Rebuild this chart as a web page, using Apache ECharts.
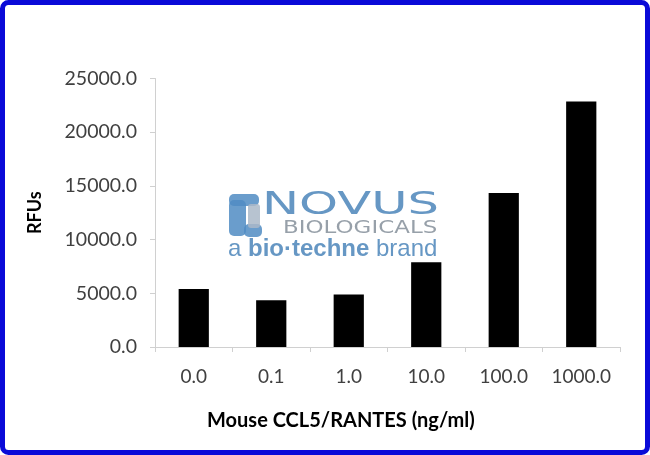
<!DOCTYPE html>
<html>
<head>
<meta charset="utf-8">
<script src="https://cdn.jsdelivr.net/npm/echarts@6/dist/echarts.min.js"></script>
<style>
html,body{margin:0;padding:0;background:#fff;}
#main{width:650px;height:455px;}
</style>
</head>
<body>
<div id="main"></div>
<script>
var categories = ['0.0', '0.1', '1.0', '10.0', '100.0', '1000.0'];
var rfuValues = [5400, 4350, 4880, 7900, 14350, 22850];
var yTicks = [0, 5000, 10000, 15000, 20000, 25000];

var chart = echarts.init(document.getElementById('main'), null, {renderer: 'canvas'});
var font = 'Lato, "Open Sans", sans-serif';
var blue = 'rgba(85,140,190,0.9)';
chart.setOption({
  animation: false,
  backgroundColor: '#ffffff',
  grid: {left: 155, right: 30, top: 78.5, bottom: 108},
  xAxis: {
    type: 'category',
    data: categories,
    axisLine: {lineStyle: {color: '#d0d0d0', width: 1}},
    axisTick: {show: true, length: 5, lineStyle: {color: '#d0d0d0'}},
    axisLabel: {color: '#404040', fontSize: 19, fontFamily: font, margin: 20}
  },
  yAxis: {
    type: 'value',
    min: yTicks[0],
    max: yTicks[yTicks.length - 1],
    interval: yTicks[1] - yTicks[0],
    name: 'RFUs',
    nameLocation: 'middle',
    nameGap: 111,
    nameTextStyle: {color: '#000', fontSize: 18, fontWeight: 'bold', fontFamily: font},
    splitLine: {show: false},
    axisLine: {show: true, lineStyle: {color: '#d0d0d0', width: 1}},
    axisTick: {show: true, length: 5, lineStyle: {color: '#d0d0d0'}},
    axisLabel: {
      color: '#404040', fontSize: 19.5, fontFamily: font, margin: 18,
      formatter: function (v) { return v.toFixed(1); }
    }
  },
  series: [{
    type: 'bar',
    data: rfuValues,
    barWidth: '39%',
    itemStyle: {color: '#000000'}
  }],
  graphic: [
    {type: 'rect', z: 100, shape: {x: 2.5, y: 2.5, width: 645, height: 450, r: 6},
     style: {fill: 'none', stroke: '#0a0ad8', lineWidth: 5}},
    {type: 'text', left: 207, top: 411, z: 10,
     style: {text: 'Mouse CCL5/RANTES (ng/ml)', fill: '#000', fontSize: 20, fontWeight: 'bold', fontFamily: font}},
    // watermark
    {type: 'group', z: 5, children: [
      {type: 'rect', shape: {x: 229, y: 200, width: 17, height: 36, r: 5}, style: {fill: 'rgba(80,140,195,0.85)'}},
      {type: 'rect', shape: {x: 229, y: 194, width: 30, height: 12, r: 5}, style: {fill: 'rgba(80,140,195,0.85)'}},
      {type: 'rect', shape: {x: 244, y: 224, width: 18, height: 13, r: 5}, style: {fill: 'rgba(80,140,195,0.85)'}},
      {type: 'rect', shape: {x: 248, y: 204, width: 12, height: 24, r: 3}, style: {fill: 'rgba(170,185,200,0.85)'}},
      {type: 'text', x: 262, y: 190, scaleX: 1.55, style: {text: 'NOVUS', fill: blue, fontSize: 32, fontFamily: '"DejaVu Sans", sans-serif'}},
      {type: 'text', x: 283, y: 220, scaleX: 1.35, style: {text: 'BIOLOGICALS', fill: 'rgba(140,150,160,0.9)', fontSize: 17, fontFamily: '"DejaVu Sans", sans-serif'}},
      {type: 'text', x: 228, y: 237, style: {
        text: '{n|a }{b|bio·techne}{n| brand}',
        rich: {
          n: {fill: blue, fontSize: 24, fontFamily: '"Liberation Sans", sans-serif'},
          b: {fill: blue, fontSize: 24, fontWeight: 'bold', fontFamily: '"Liberation Sans", sans-serif'}
        }
      }}
    ]}
  ]
});
</script>
</body>
</html>
